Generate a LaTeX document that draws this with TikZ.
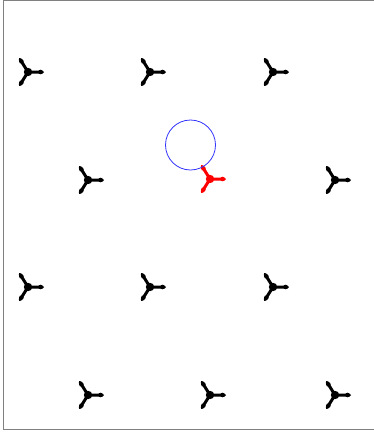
\documentclass[tikz,border=0pt]{standalone}
\begin{document}
\begin{tikzpicture}[x=1pt,y=-1pt,
  trefoil/.pic={
    \draw[line width=3pt,line cap=round] (0,0) -- (14.5,0) (0,0) -- (122:15) (0,0) -- (238:15);
    \fill (0,0) circle (4.2);
    \fill (12.5,0) circle (2.3) (122:12.5) circle (2.3) (238:12.5) circle (2.3);
  },
  framecol/.style={draw=black!50,line width=1pt}]
\useasboundingbox (0,0) rectangle (373,437);
\draw[framecol] (380,0.5) -- (3.5,0.5) -- (3.5,429) -- (380,429);
\foreach \x in {28,150,273} {
  \pic at (\x,72) {trefoil};
  \pic at (\x,287) {trefoil};
}
\foreach \x in {88,210,335} {
  \pic at (\x,395) {trefoil};
}
\pic at (88,180) {trefoil};
\pic at (335,180) {trefoil};
\begin{scope}[red]
\pic[red] at (210,179) {trefoil};
\end{scope}
\draw[blue!80,line width=0.8pt] (190.5,145) circle (25);
\end{tikzpicture}
\end{document}
